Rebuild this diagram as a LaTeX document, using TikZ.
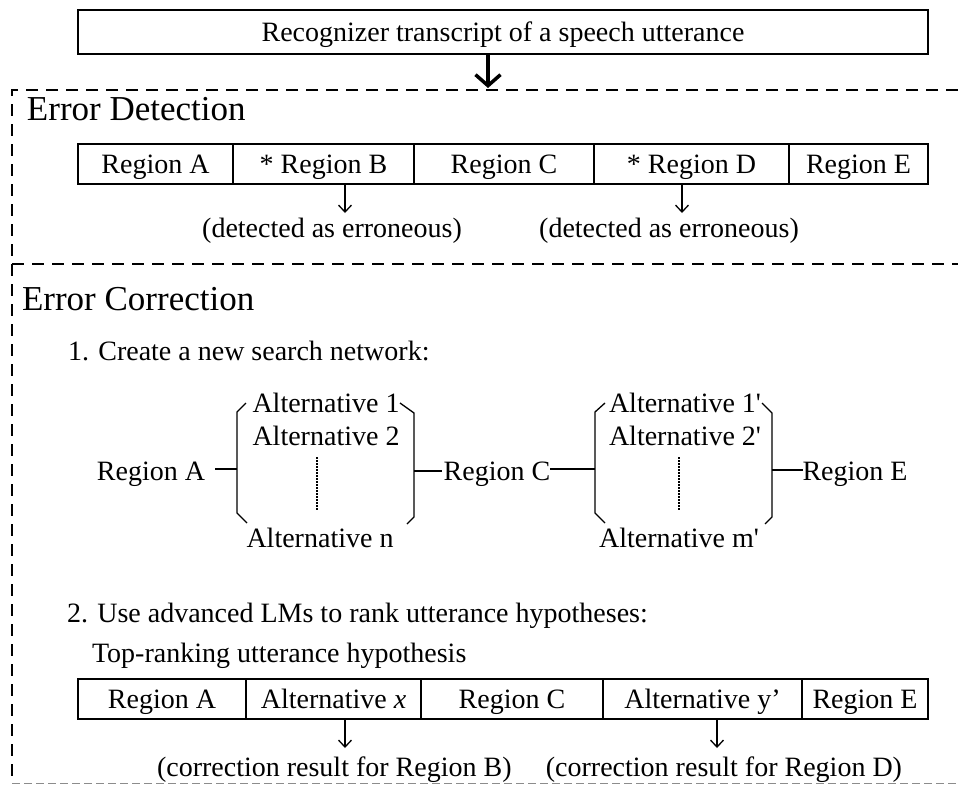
\documentclass[tikz,border=0pt]{standalone}
\usepackage{fontspec}
\setmainfont{Liberation Serif}
\usetikzlibrary{arrows.meta}

\begin{document}
\begin{tikzpicture}[x=1pt,y=-1pt,
  every node/.style={inner sep=0pt, outer sep=0pt},
  body/.style={font=\fontsize{28}{30}\selectfont},
  txt/.style={body, anchor=base},
  txtw/.style={body, anchor=base west},
  heading/.style={font=\fontsize{35}{38}\selectfont, anchor=base west},
  cell/.style={body, draw, line width=1.5pt, minimum height=40pt,
    text height=21pt, text depth=3pt},
  frame/.style={line width=2pt, dash pattern=on 12pt off 8pt},
  framelight/.style={line width=1pt, draw=black!45, dash pattern=on 8pt off 4pt},
  bigarrow/.style={line width=3.5pt, -{Straight Barb[length=11pt,width=25pt]}},
  smallarrow/.style={line width=1.3pt, -{Straight Barb[length=7pt,width=13pt]}},
  link/.style={line width=1.5pt},
  brk/.style={line width=1.3pt},
  dotline/.style={line width=1.6pt, dash pattern=on 1.6pt off 1.4pt}
]
\useasboundingbox (0,0) rectangle (958,785);

% input transcript
\node[cell, minimum width=850pt, minimum height=44pt] (top) at (503,32)
  {Recognizer transcript of a speech utterance};
\coordinate (topend) at (488,88);
\draw[bigarrow] (top.south -| topend) -- (topend);

% dashed frames of the two stages
\draw[frame] (958,90) -- (12,90) -- (12,783);
\draw[frame] (12,264) -- (958,264);
\draw[framelight] (12,783) -- (958,783);

% ---------- error detection ----------
\node[heading] (hdet) at (27,120) {Error Detection};

\node[cell, minimum width=155pt] (r1a) at (155.5,164) {Region A};
\node[cell, minimum width=181pt] (r1b) at (323.5,164) {* Region B};
\node[cell, minimum width=180pt] (r1c) at (504,164) {Region C};
\node[cell, minimum width=195pt] (r1d) at (691.5,164) {* Region D};
\node[cell, minimum width=139pt] (r1e) at (858.5,164) {Region E};

\node[txt] (det1) at (332,237) {(detected as erroneous)};
\node[txt] (det2) at (669,237) {(detected as erroneous)};
\coordinate (d1) at (345,213);
\coordinate (d2) at (682,213);
\draw[smallarrow] (r1b.south -| d1) -- (d1);
\draw[smallarrow] (r1d.south -| d2) -- (d2);

% ---------- error correction ----------
\node[heading] (hcor) at (22,310) {Error Correction};
\node[txtw] (step1) at (68,360) {1. Create a new search network:};

% search network
\node[txt, inner xsep=10pt] (na) at (151,480) {Region A};
\node[txt] (a1) at (326,412) {Alternative 1};
\node[txt] (a2) at (326,445) {Alternative 2};
\node[txt] (an) at (320,547) {Alternative n};
\node[txt] (nc) at (497,480) {Region C};
\node[txt] (b1) at (685,412) {Alternative 1\textquotesingle};
\node[txt] (b2) at (685,445) {Alternative 2\textquotesingle};
\node[txt] (bm) at (679,547) {Alternative m\textquotesingle};
\node[txt] (ne) at (855,480) {Region E};

\coordinate (bl1) at (237,469);
\coordinate (br1) at (414,471);
\coordinate (bl2) at (595,469);
\coordinate (br2) at (772,470);

\draw[brk] (246,403) -- (237,412) -- (bl1) -- (237,513) -- (247,523);
\draw[brk] (400,403) -- (414,413) -- (br1) -- (414,517) -- (407,524);
\draw[brk] (605,403) -- (595,412) -- (bl2) -- (595,513) -- (605,523);
\draw[brk] (762,403) -- (772,413) -- (br2) -- (772,517) -- (765,524);

\draw[dotline] (317,457) -- (317,510);
\draw[dotline] (679,457) -- (679,510);

\draw[link] (na.east |- bl1) -- (bl1);
\draw[link] (br1) -- ([xshift=-2pt]nc.west |- br1);
\draw[link] (nc.east |- bl2) -- (bl2);
\draw[link] (br2) -- (ne.west |- br2);

% ranking
\node[txtw] (step2) at (67,622) {2. Use advanced LMs to rank utterance hypotheses:};
\node[txtw] (toprank) at (92,662) {Top-ranking utterance hypothesis};

\node[cell, minimum width=168pt] (r3a) at (162,699) {Region A};
\node[cell, minimum width=175pt] (r3b) at (333.5,699) {Alternative \textit{x}};
\node[cell, minimum width=182pt] (r3c) at (512,699) {Region C};
\node[cell, minimum width=199pt] (r3d) at (702.5,699) {Alternative y’};
\node[cell, minimum width=126pt] (r3e) at (865,699) {Region E};

\node[txtw] (cor1) at (157,776) {(correction result for Region B)};
\node[body, anchor=base east] (cor2) at (902,776) {(correction result for Region D)};
\coordinate (c1) at (345,748);
\coordinate (c2) at (717,748);
\draw[smallarrow] (r3b.south -| c1) -- (c1);
\draw[smallarrow] (r3d.south -| c2) -- (c2);

\end{tikzpicture}
\end{document}
